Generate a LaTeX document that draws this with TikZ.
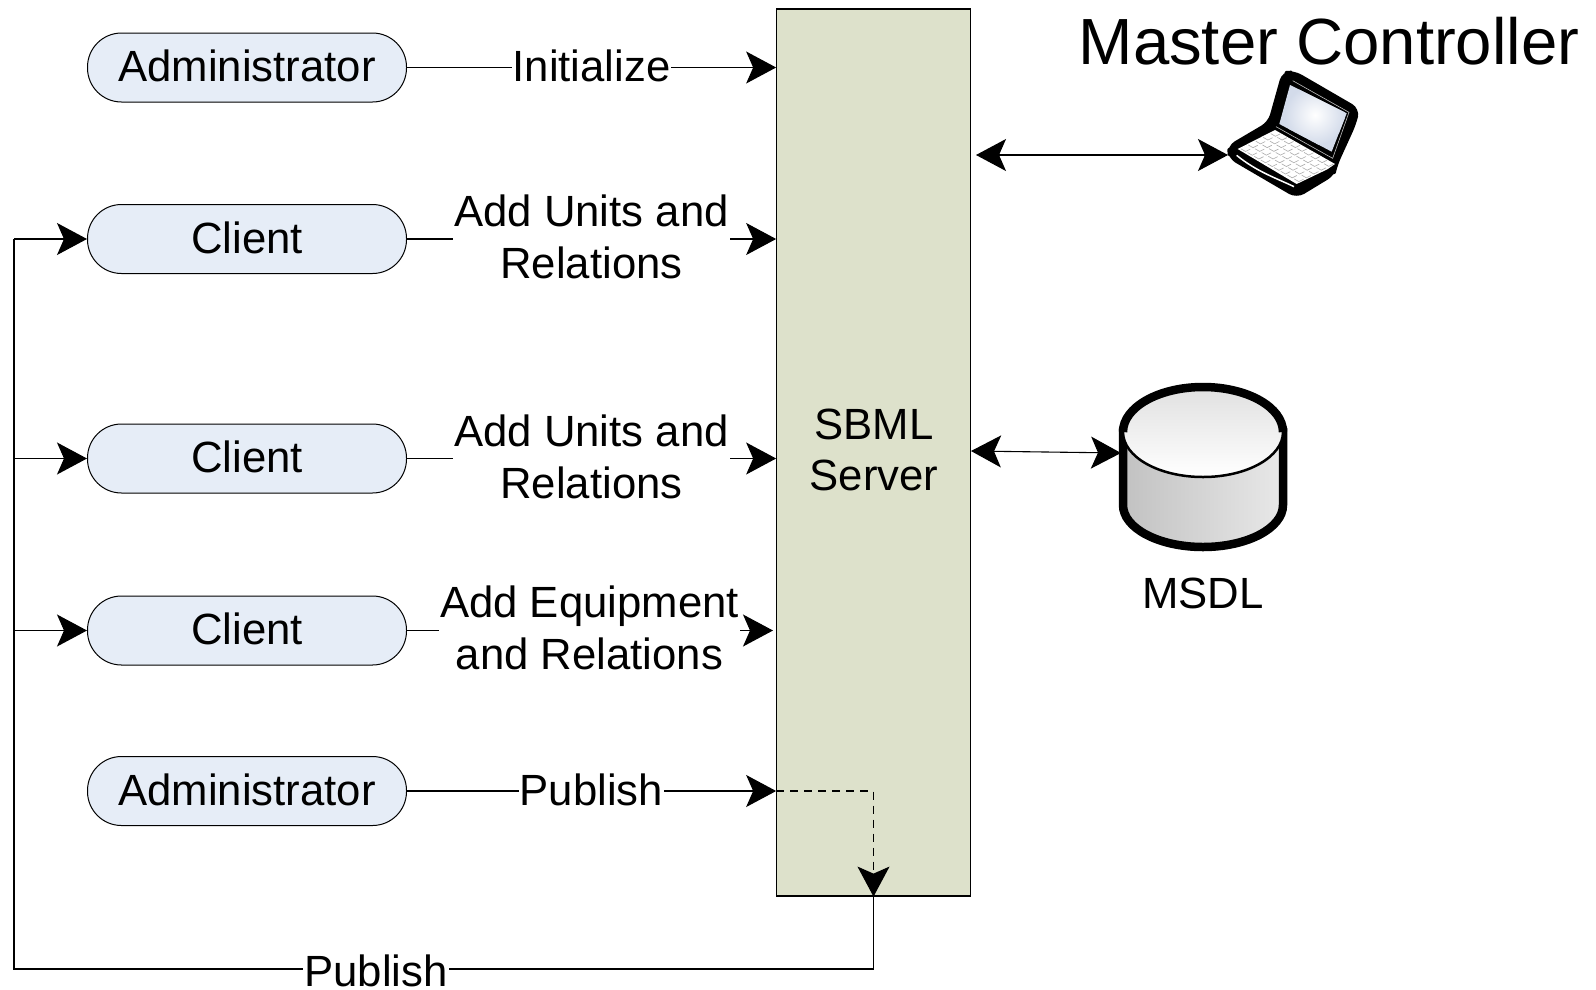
\documentclass[tikz,border=0pt]{standalone}
\usepackage{fontspec}
\setmainfont{Liberation Sans}
\usetikzlibrary{arrows.meta,calc}
\definecolor{pillfill}{HTML}{E6EDF7}
\definecolor{srvfill}{HTML}{DDE1CB}
\definecolor{screenblue}{HTML}{D3DBEA}
\newcommand{\pilltext}[1]{\raisebox{3.5pt}{#1}}
\tikzset{
  pill/.style={draw=black,line width=1pt,fill=pillfill,rounded corners=34pt,minimum width=319pt,minimum height=69pt,inner sep=0pt,font=\fontsize{43.7}{51.7}\selectfont},
  srvbox/.style={draw=black,line width=1.2pt,fill=srvfill,minimum width=193.5pt,minimum height=887pt,inner sep=0pt},
  lbl/.style={fill=white,inner sep=1pt,align=center,font=\fontsize{43.7}{51.7}\selectfont},
  plain/.style={inner sep=0pt,align=center,font=\fontsize{43.7}{51.7}\selectfont},
  conn/.style={line width=1.1pt,draw=black},
  bigtips/.style={>={Stealth[length=30pt,width=32pt,inset=7pt]}},
}
\begin{document}
\begin{tikzpicture}[x=1pt,y=-1pt,bigtips]
\useasboundingbox (0,0) rectangle (1596,989);
% server
\node[srvbox] (srv) at (873.5,452.5) {};
\node[plain] (srvtxt) at (874,450) {SBML\\Server};
% clients
\node[pill] (a1) at (247,67.5) {\pilltext{Administrator}};
\node[pill] (c1) at (247,239) {\pilltext{Client}};
\node[pill] (c2) at (247,458.5) {\pilltext{Client}};
\node[pill] (c3) at (247,630.5) {\pilltext{Client}};
\node[pill] (a2) at (247,791) {\pilltext{Administrator}};
% free ends
\coordinate (busA) at (14,239);
\coordinate (busB) at (14,458.5);
\coordinate (busC) at (14,630.5);
\coordinate (busD) at (14,969);
\coordinate (botR) at (873.5,969);
\coordinate (c3end) at (773,630.5);
% connectors to server
\draw[conn,->] (a1.east) -- (a1.east -| srv.west);
\node[lbl] (t1) at (591.5,65.5) {Initialize};
\draw[conn,->] (c1.east) -- (c1.east -| srv.west);
\node[lbl] (t2) at (591.5,237) {Add Units and\\Relations};
\draw[conn,->] (c2.east) -- (c2.east -| srv.west);
\node[lbl] (t3) at (591.5,457) {Add Units and\\Relations};
\draw[conn,->] (c3.east) -- (c3end);
\node[lbl] (t4) at (589.5,628) {Add Equipment\\and Relations};
\draw[conn,->] (a2.east) -- (a2.east -| srv.west);
\node[lbl] (t5) at (591.5,789.5) {Publish};
% dashed
\draw[line width=1.3pt,dash pattern=on 8pt off 6pt,->] (a2.east -| srv.west) -| (srv.south);
% bus
\draw[conn] (srv.south) -- (botR) -- (busD) -- (busA);
\draw[conn,->] (busA) -- (c1.west);
\draw[conn,->] (busB) -- (c2.west);
\draw[conn,->] (busC) -- (c3.west);
\node[fill=white,inner sep=1pt,anchor=base,font=\fontsize{43.7}{51.7}\selectfont] (t6) at (376,986) {Publish};
% title
\node[inner sep=0pt,font=\fontsize{65.3}{70}\selectfont] (title) at (1329,41) {Master Controller};
% laptop (drawn in zoom units)
\begin{scope}[shift={(1200,50)},x=0.3333pt,y=-0.3333pt]
  \fill[black,draw=black,line width=3pt,line join=round,rounded corners=8pt]
    (250,68) -- (282,66) -- (475,178) -- (464,222) -- (408,345) -- (402,372) -- (290,440) -- (88,322) -- (86,290) -- (208,218) -- cycle;
  \fill[screenblue] (270,105) -- (440,190) -- (395,305) -- (238,222) -- cycle;
  \begin{scope}
    \clip (270,105) -- (440,190) -- (395,305) -- (238,222) -- cycle;
    \shade[inner color=white,outer color=screenblue] (345,195) circle[radius=90];
  \end{scope}
  \draw[white!75!black,line width=0.6pt] (278,92) -- (447,187) -- (398,325) -- (228,230);
  \fill[white] (113,297) -- (225,240) -- (405,342) -- (382,358) -- (290,402) -- cycle;
  \draw[white,line width=1.5pt] (110,316) .. controls (170,365) and (230,385) .. (282,410);
  \begin{scope}
    \clip (113,297) -- (225,240) -- (405,342) -- (382,358) -- (290,402) -- cycle;
    \foreach \r in {0,...,4}{
      \foreach \k in {0,...,8}{
        \draw[gray!65,line width=0.6pt]
          ($(113,297)+{\r+0.25}*(22.4,-11.4)+{\k+0.2}*(20,11.3)$) -- ++(14,8) -- ++(14,-7);
      }
    }
  \end{scope}
\end{scope}
\coordinate (lapW) at (1228,155);
\coordinate (srvE1) at (976,155);
\draw[conn,<->] (srvE1) -- (lapW);
% database
\coordinate (dbC) at (1203,432);
\shade[left color=black!24,right color=black!9,draw=black,line width=8.5pt]
  (1123,432) -- (1123,505) arc[start angle=180,end angle=0,x radius=80,y radius=42] -- (1283,432) -- cycle;
\shade[top color=black!12,bottom color=white] (dbC) ellipse[x radius=80,y radius=45];
\draw[black,line width=8.5pt] (1123,432) arc[start angle=180,end angle=0,x radius=80,y radius=-45];
\draw[black,line width=2.5pt] (1123,432) arc[start angle=180,end angle=0,x radius=80,y radius=45];
\coordinate (dbW) at (1121,453);
\coordinate (srvE2) at (971,451);
\draw[conn,<->] (srvE2) -- (dbW);
\node[plain] (msdl) at (1203,593) {MSDL};
\end{tikzpicture}
\end{document}
